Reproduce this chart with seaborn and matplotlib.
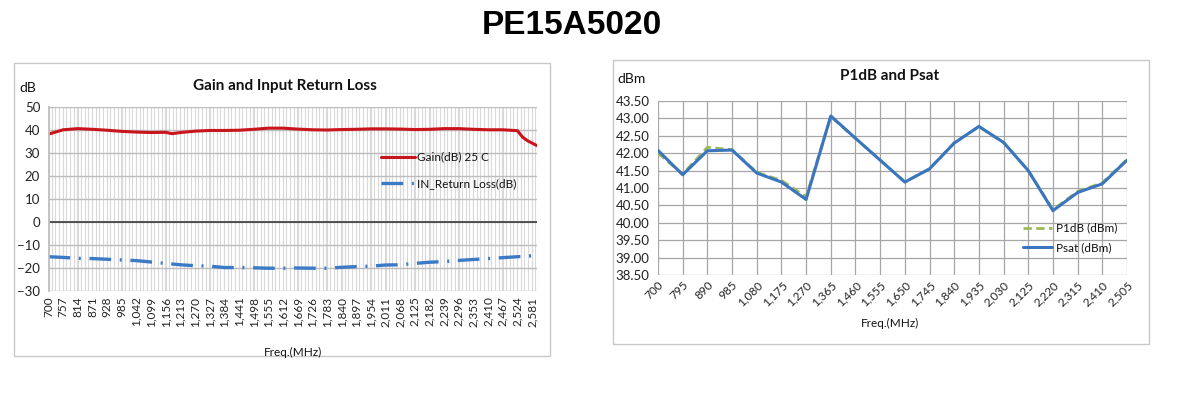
import numpy as np
import pandas as pd
import matplotlib
matplotlib.use("Agg")
import matplotlib.pyplot as plt
from matplotlib.patches import Rectangle
from matplotlib.ticker import MultipleLocator
import seaborn as sns

# ---- left chart data (read at the 57 MHz label positions) ----
gain_freq = [700, 757, 814, 871, 928, 985, 1042, 1099, 1156, 1180, 1213, 1270,
             1327, 1384, 1441, 1498, 1555, 1612, 1669, 1726, 1783, 1840, 1897,
             1954, 2011, 2068, 2125, 2182, 2239, 2296, 2353, 2410, 2467, 2524,
             2543, 2562, 2581, 2600]
gain_db = [38.2, 40.1, 40.6, 40.3, 39.9, 39.4, 39.1, 38.9, 39.0, 38.4, 38.9, 39.5,
           39.8, 39.8, 39.9, 40.3, 40.8, 40.8, 40.4, 40.1, 40.0, 40.2, 40.3,
           40.5, 40.5, 40.4, 40.2, 40.3, 40.6, 40.6, 40.3, 40.1, 40.1, 39.7,
           37.0, 35.4, 34.3, 33.2]

rl_freq = [700, 757, 814, 871, 928, 985, 1042, 1099, 1156, 1213, 1270, 1327,
           1384, 1441, 1498, 1555, 1612, 1669, 1726, 1783, 1840, 1897, 1954,
           2011, 2068, 2125, 2182, 2239, 2296, 2353, 2410, 2467, 2524, 2581, 2600]
rl_db = [-15.1, -15.4, -15.8, -15.9, -16.2, -16.5, -16.8, -17.4, -18.0, -18.6, -19.0, -19.2,
         -19.8, -19.8, -19.9, -20.1, -20.1, -20.0, -20.1, -20.1, -19.7, -19.4, -19.2,
         -18.7, -18.6, -18.0, -17.5, -17.2, -16.7, -16.3, -15.9, -15.5, -15.1, -14.7, -14.6]

# ---- right chart data ----
pw_freq = [700, 795, 890, 985, 1080, 1175, 1270, 1365, 1460, 1555,
           1650, 1745, 1840, 1935, 2030, 2125, 2220, 2315, 2410, 2505]
p1db = [42.00, 41.40, 42.17, 42.10, 41.45, 41.22, 40.75, 43.05, 42.42, 41.80,
        41.18, 41.55, 42.30, 42.76, 42.30, 41.50, 40.38, 40.90, 41.15, 41.82]
psat = [42.08, 41.38, 42.07, 42.09, 41.43, 41.17, 40.67, 43.07, 42.43, 41.80,
        41.17, 41.55, 42.29, 42.77, 42.31, 41.50, 40.35, 40.87, 41.12, 41.80]

sns.set_theme(style="white")
plt.rcParams['font.family'] = ['Lato', 'DejaVu Sans']
plt.rcParams['text.color'] = "#111111"
plt.rcParams['xtick.color'] = "#222222"
plt.rcParams['ytick.color'] = "#222222"

W, H = 1189, 398
fig = plt.figure(figsize=(W / 100, H / 100), dpi=100)


def fx(px):
    return px / W


def fy(py):
    return 1 - py / H


# outer chart boxes
for x0, y0, x1, y1 in [(14, 63, 550, 356), (613, 60, 1149, 344)]:
    fig.patches.append(Rectangle((fx(x0), fy(y1)), fx(x1 - x0), (y1 - y0) / H,
                                 transform=fig.transFigure, fill=False,
                                 edgecolor="#c8c8c8", linewidth=1.0))

fig.text(fx(572), fy(25), "PE15A5020", ha="center", va="center", fontsize=24,
         fontweight="bold", color="black", family=['Liberation Sans', 'DejaVu Sans'])

# ---------------- left chart ----------------
ax1 = fig.add_axes([fx(48.5), fy(291), fx(537 - 48.5), (291 - 107) / H])
df_gain = pd.DataFrame({"freq": gain_freq, "val": gain_db})
df_rl = pd.DataFrame({"freq": rl_freq, "val": rl_db})
sns.lineplot(data=df_gain, x="freq", y="val", ax=ax1, color="#c9141b",
             linewidth=2.2, label="Gain(dB) 25 C")
sns.lineplot(data=df_rl, x="freq", y="val", ax=ax1, color="#3b7ac6",
             linewidth=2.4, label="IN_Return Loss(dB)",
             linestyle=(0, (6.5, 2.6, 0.6, 2.6)))
ax1.set_xlim(700, 2600)
ax1.set_ylim(-30, 50)
ax1.set_yticks(range(-30, 51, 10))
ax1.set_xticks(range(700, 2600, 57))
ax1.set_xticklabels([f"{v:,}" for v in range(700, 2600, 57)], rotation=90,
                    fontsize=8.5)
ax1.tick_params(axis="y", labelsize=9.5, length=0, pad=6)
ax1.tick_params(axis="x", length=0, pad=4)
ax1.xaxis.set_minor_locator(MultipleLocator(14.25))
ax1.grid(True, which="minor", axis="x", color="#d9d9d9", linewidth=0.8)
ax1.grid(True, which="major", axis="x", color="#d9d9d9", linewidth=0.8)
ax1.grid(True, which="major", axis="y", color="#bdbdbd", linewidth=1.0)
ax1.axhline(0, color="#3a3a3a", linewidth=1.2, zorder=1.5)
for s in ax1.spines.values():
    s.set_visible(False)
ax1.spines["left"].set_visible(True)
ax1.spines["left"].set_color("#bdbdbd")
ax1.set_xlabel("")
ax1.set_ylabel("")
fig.text(fx(28), fy(88), "dB", ha="center", va="center", fontsize=10)
fig.text(fx(285), fy(86), "Gain and Input Return Loss", ha="center",
         va="center", fontsize=11, fontweight="bold")
fig.text(fx(293), fy(352), "Freq.(MHz)", ha="center", va="center", fontsize=8.5)
leg1 = ax1.legend(loc="upper left", bbox_to_anchor=((376 - 48.5) / 488.5, 1 - (147 - 107) / 184),
                  frameon=False, fontsize=8.5, handlelength=2.9, handletextpad=0.2,
                  labelspacing=1.3, borderaxespad=0)

# ---------------- right chart ----------------
ax2 = fig.add_axes([fx(658), fy(275), fx(1127 - 658), (275 - 101) / H])
df_pw = pd.DataFrame({"freq": pw_freq, "P1dB (dBm)": p1db, "Psat (dBm)": psat})
sns.lineplot(data=df_pw, x="freq", y="P1dB (dBm)", ax=ax2, color="#9bbb59",
             linewidth=2.0, label="P1dB (dBm)", linestyle=(0, (3, 1.6)))
sns.lineplot(data=df_pw, x="freq", y="Psat (dBm)", ax=ax2, color="#3a75c0",
             linewidth=2.2, label="Psat (dBm)")
ax2.set_xlim(700, 2505)
ax2.set_ylim(38.5, 43.5)
ax2.set_xticks(pw_freq)
ax2.set_xticklabels([f"{v:,}" for v in pw_freq], rotation=45, ha="right",
                    rotation_mode="anchor", fontsize=8.5)
ax2.set_yticks(np.arange(38.5, 43.51, 0.5))
ax2.set_yticklabels([f"{v:.2f}" for v in np.arange(38.5, 43.51, 0.5)])
ax2.tick_params(axis="y", labelsize=9.5, length=0, pad=6)
ax2.tick_params(axis="x", length=0, pad=3)
ax2.grid(True, color="#a6a6a6", linewidth=0.9)
for s in ax2.spines.values():
    s.set_visible(False)
ax2.set_xlabel("")
ax2.set_ylabel("")
fig.text(fx(632), fy(79), "dBm", ha="center", va="center", fontsize=10)
fig.text(fx(890), fy(76), "P1dB and Psat", ha="center", va="center",
         fontsize=11, fontweight="bold")
fig.text(fx(890), fy(323), "Freq.(MHz)", ha="center", va="center", fontsize=8.5)
leg2 = ax2.legend(loc="upper left", bbox_to_anchor=((1018 - 658) / 469, 1 - (218 - 101) / 174),
                  frameon=False, fontsize=8.5, handlelength=2.5, handletextpad=0.3,
                  labelspacing=0.75, borderaxespad=0)

fig.savefig("out.png", dpi=100)
